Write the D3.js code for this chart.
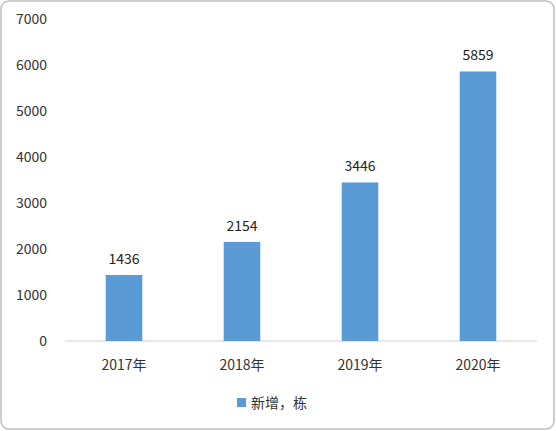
<!DOCTYPE html><html><head><meta charset="utf-8"><script src="https://cdn.jsdelivr.net/npm/d3@7"></script>
<style>body{margin:0;background:#fff}</style></head><body><svg id="c" width="556" height="431"></svg>
<script>
const categories=["2017年","2018年","2019年","2020年"];
const values=[1436,2154,3446,5859];
const yTicks=[0,1000,2000,3000,4000,5000,6000,7000];
const svg=d3.select("#c");
const font="'Noto Sans CJK SC','Liberation Sans',sans-serif";
svg.append("rect").attr("x",1).attr("y",1).attr("width",553).attr("height",428).attr("rx",8).attr("fill","#fff").attr("stroke","#bfbfbf").attr("stroke-width",1.5);
const x=d3.scaleBand().domain(categories).range([65,537]).paddingInner(0.69).paddingOuter(0.345);
const y=d3.scaleLinear().domain([0,7000]).range([341,19]);
svg.append("line").attr("x1",65).attr("x2",537).attr("y1",y(0)).attr("y2",y(0)).attr("stroke","#d0d0d0");
svg.selectAll(".yt").data(yTicks).join("text").attr("x",47).attr("y",d=>y(d)+5).attr("text-anchor","end").attr("font-family",font).attr("font-size",14).attr("fill","#333").text(d=>d);
svg.selectAll(".xt").data(categories).join("text").attr("x",d=>x(d)+x.bandwidth()/2).attr("y",370).attr("text-anchor","middle").attr("font-family",font).attr("font-size",14).attr("fill","#333").text(d=>d);
svg.selectAll(".bar").data(values).join("rect").attr("x",(d,i)=>x(categories[i])).attr("width",x.bandwidth()).attr("y",d=>y(d)).attr("height",d=>y(0)-y(d)).attr("fill","#5b9bd5");
svg.selectAll(".lb").data(values).join("text").attr("x",(d,i)=>x(categories[i])+x.bandwidth()/2).attr("y",d=>y(d)-11).attr("text-anchor","middle").attr("font-family",font).attr("font-size",14).attr("fill","#222").text(d=>d);
svg.append("rect").attr("x",237).attr("y",398).attr("width",9).attr("height",9).attr("fill","#5b9bd5");
svg.append("text").attr("x",251).attr("y",408).attr("font-family",font).attr("font-size",14).attr("fill","#333").text("新增，栋");
</script></body></html>
